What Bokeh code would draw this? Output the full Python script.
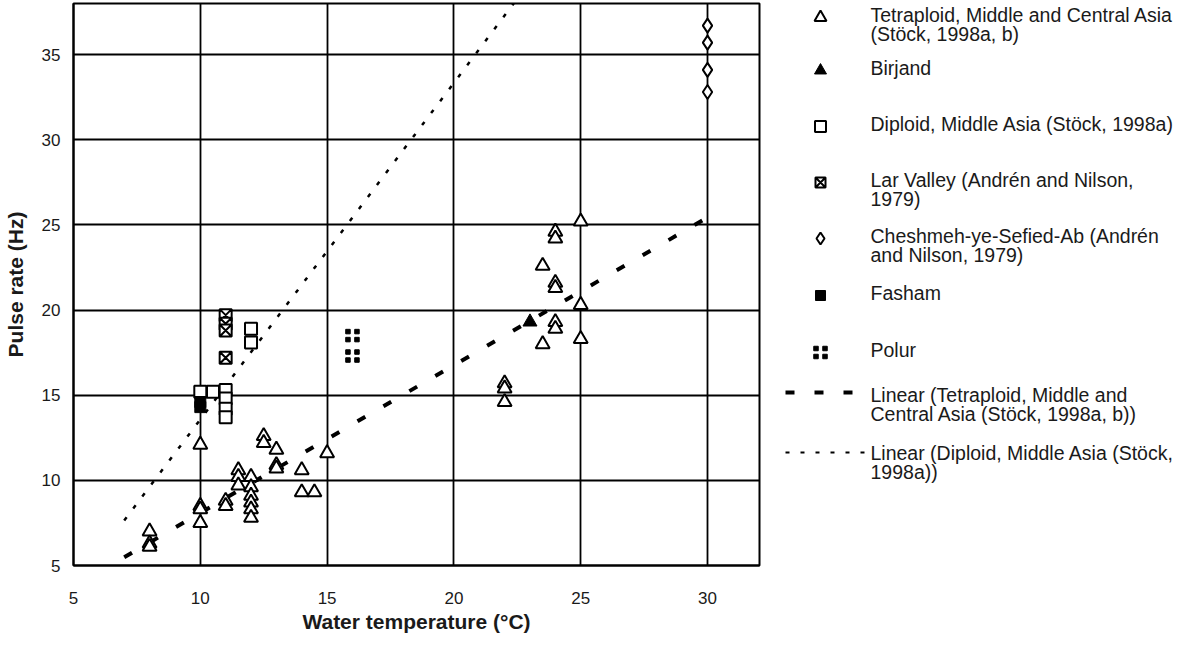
import numpy as np
from bokeh.plotting import figure
from bokeh.models import Range1d, FixedTicker
from bokeh.layouts import row
from bokeh.transform import dodge
from bokeh.embed import file_html
from bokeh.resources import INLINE
from bokeh.core.properties import value

# ---------------- data ----------------
tet_x = [8, 8, 8, 10, 10, 10, 10, 11, 11, 11.5, 11.5, 11.5,
         12, 12, 12, 12, 12, 12, 12.5, 12.5, 13, 13, 13, 14, 14, 14.5, 15,
         22, 22, 22, 23.5, 23.5, 24, 24, 24, 24, 24, 24, 25, 25, 25]
tet_y = [7.0, 6.3, 6.1, 12.1, 8.5, 8.3, 7.5, 8.8, 8.5, 10.6, 10.2, 9.7,
         10.2, 9.6, 9.1, 8.7, 8.3, 7.8, 12.6, 12.2, 11.8, 10.9, 10.7, 10.6, 9.3, 9.3, 11.6,
         15.7, 15.4, 14.6, 22.6, 18.0, 24.6, 24.2, 21.6, 21.3, 19.3, 18.9, 25.2, 20.3, 18.3]

birjand_x = [23]
birjand_y = [19.3]

dip_x = [10, 10.5, 11, 11, 11, 11, 12, 12]
dip_y = [15.2, 15.2, 15.3, 14.8, 14.2, 13.7, 18.9, 18.1]

lar_x = [11, 11, 11, 11]
lar_y = [19.7, 19.2, 18.8, 17.2]

chesh_x = [30, 30, 30, 30]
chesh_y = [36.7, 35.7, 34.1, 32.8]

fasham_x = [10, 10]
fasham_y = [14.6, 14.3]

polur_x = [16, 16]
polur_y = [18.5, 17.3]

# trendline extents (Excel forecast range)
tet_trend_x = [7, 30]
dip_trend_x = [7, 23]

x_ticks = [5, 10, 15, 20, 25, 30]
y_ticks = [5, 10, 15, 20, 25, 30, 35]

legend_labels = [
    ["Tetraploid, Middle and Central Asia", "(Stöck, 1998a, b)"],
    ["Birjand"],
    ["Diploid, Middle Asia (Stöck, 1998a)"],
    ["Lar Valley (Andrén and Nilson,", "1979)"],
    ["Cheshmeh-ye-Sefied-Ab (Andrén", "and Nilson, 1979)"],
    ["Fasham"],
    ["Polur"],
    ["Linear (Tetraploid, Middle and", "Central Asia (Stöck, 1998a, b))"],
    ["Linear (Diploid, Middle Asia (Stöck,", "1998a))"],
]

# ---------------- main plot ----------------
FONT = "Liberation Sans"
X0, X1, Y0, Y1 = 5, 32.05, 5, 38
FW, FH = 686, 562

p = figure(frame_width=FW, frame_height=FH,
           x_range=Range1d(X0, X1), y_range=Range1d(Y0, Y1),
           output_backend="svg", toolbar_location=None,
           min_border_left=70, min_border_right=2, min_border_top=3, min_border_bottom=64)
p.background_fill_color = "white"
p.border_fill_color = "white"
p.outline_line_color = "black"
p.outline_line_width = 2

p.xaxis.ticker = FixedTicker(ticks=x_ticks)
p.yaxis.ticker = FixedTicker(ticks=y_ticks)
for g in (p.xgrid, p.ygrid):
    g.grid_line_color = "black"
    g.grid_line_width = 1.8
p.xgrid.ticker = FixedTicker(ticks=x_ticks)
p.ygrid.ticker = FixedTicker(ticks=y_ticks)

for ax in (p.xaxis, p.yaxis):
    ax.axis_line_color = "black"
    ax.axis_line_width = 2
    ax.major_tick_line_color = None
    ax.minor_tick_line_color = None
    ax.major_tick_out = 0
    ax.major_tick_in = 0
    ax.major_label_text_font = FONT
    ax.major_label_text_font_size = "17px"
    ax.major_label_text_color = "#1a1a1a"
    ax.axis_label_text_font = FONT
    ax.axis_label_text_font_style = "bold"
    ax.axis_label_text_font_size = "21px"
    ax.axis_label_text_color = "#1a1a1a"

p.xaxis.axis_label = "Water temperature (°C)"
p.yaxis.axis_label = "Pulse rate (Hz)"
p.xaxis.major_label_standoff = 26
p.xaxis.axis_label_standoff = 3
p.yaxis.major_label_standoff = 13
p.yaxis.axis_label_standoff = 12

# trend lines (least squares, as Excel's linear trendline)
tk = np.polyfit(tet_x, tet_y, 1)
dk = np.polyfit(dip_x, dip_y, 1)
p.line(tet_trend_x, list(np.polyval(tk, tet_trend_x)), line_color="black",
       line_width=4, line_dash="9 21")
p.line(dip_trend_x, list(np.polyval(dk, dip_trend_x)), line_color="black",
       line_width=2.5, line_dash="4 11")

# markers
p.scatter(tet_x, tet_y, marker="triangle", size=14, line_color="black",
          line_width=2, fill_color="white")
p.scatter(dip_x, dip_y, marker="square", size=12, line_color="black",
          line_width=2, fill_color="white")
p.scatter(lar_x, lar_y, marker="square_x", size=12, line_color="black",
          line_width=2, fill_color="white")
p.scatter(chesh_x, chesh_y, marker="diamond", size=14, line_color="black",
          line_width=2, fill_color="white")
p.scatter(fasham_x, fasham_y, marker="square", size=11, line_color="black",
          fill_color="black")
p.scatter(birjand_x, birjand_y, marker="triangle", size=14, line_color="black",
          fill_color="black")

# Polur "::" markers, four small dots each
px_x = (X1 - X0) / FW
px_y = (Y1 - Y0) / FH
src_polur = dict(x=polur_x, y=polur_y)
for sx in (-4.5, 4.5):
    for sy in (-4, 4):
        p.scatter(x=dodge("x", sx * px_x), y=dodge("y", sy * px_y), source=src_polur,
                  marker="square", size=4.5, line_color="black", fill_color="black")

# ---------------- legend panel ----------------
LW, LH = 420, 629
lg = figure(frame_width=LW, frame_height=LH, x_range=Range1d(0, LW), y_range=Range1d(LH, 0),
            output_backend="svg", toolbar_location=None, min_border=0)
lg.axis.visible = False
lg.grid.visible = False
lg.outline_line_color = None
lg.background_fill_color = "white"
lg.border_fill_color = "white"

entry_y = [11, 64, 120, 176, 232, 289, 346, 391, 449]
line_gap = 19.5
mx = 59
tx = 109

tx_list, ty_list, tt_list = [], [], []
for ey, lines in zip(entry_y, legend_labels):
    for i, t in enumerate(lines):
        tx_list.append(tx)
        ty_list.append(ey + i * line_gap)
        tt_list.append(t)
lg.text(x=tx_list, y=ty_list, text=tt_list, text_font=value(FONT), text_font_size="19.5px",
        text_baseline="middle", text_align="left", text_color="#1a1a1a")

m = lambda k: entry_y[k] + 3
lg.scatter([mx], [m(0)], marker="triangle", size=12, line_color="black", line_width=2,
           fill_color="white")
lg.scatter([mx], [m(1)], marker="triangle", size=12, line_color="black", fill_color="black")
lg.scatter([mx], [m(2)], marker="square", size=11, line_color="black", line_width=2,
           fill_color="white")
lg.scatter([mx], [m(3)], marker="square_x", size=10, line_color="black", line_width=2,
           fill_color="white")
lg.scatter([mx], [m(4)], marker="diamond", size=12, line_color="black", line_width=2,
           fill_color="white")
lg.scatter([mx], [m(5)], marker="square", size=10, line_color="black", fill_color="black")
lg.scatter([mx - 4.5, mx + 4.5, mx - 4.5, mx + 4.5], [m(6) - 4, m(6) - 4, m(6) + 4, m(6) + 4],
           marker="square", size=4.5, line_color="black", fill_color="black")
lg.line([24, 91], [entry_y[7] - 2, entry_y[7] - 2], line_color="black", line_width=4,
        line_dash="9 20")
lg.line([24, 107], [entry_y[8], entry_y[8]], line_color="black", line_width=2,
        line_dash="4 11")

layout = row(p, lg)
open("out.html", "w").write(file_html(layout, INLINE))
